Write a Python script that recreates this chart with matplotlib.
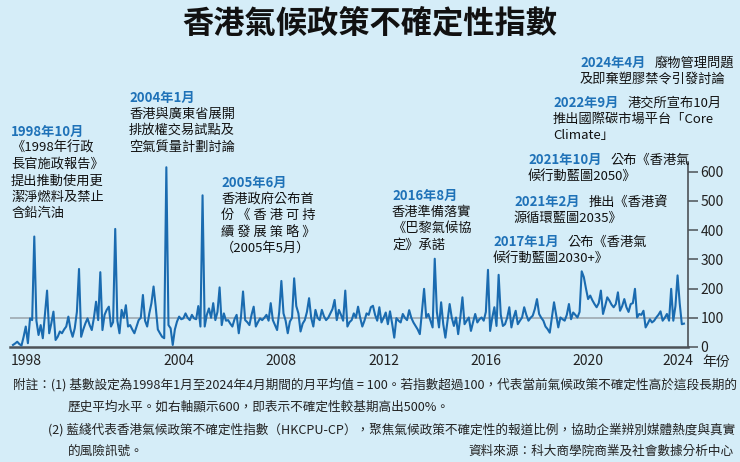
import matplotlib
matplotlib.use('Agg')
import matplotlib.pyplot as plt
import numpy as np

plt.rcParams['font.family'] = ['Noto Sans CJK TC', 'DejaVu Sans']

# HKCPU-CP monthly index, Jan 1998 - Apr 2024
y1998 = [7, 12, 18, 10, 5, 35, 70, 13, 98, 92, 378, 90]
y1999 = [41, 75, 30, 110, 193, 47, 81, 121, 24, 35, 53, 47]
y2000 = [60, 70, 104, 60, 35, 64, 120, 267, 35, 60, 81, 98]
y2001 = [75, 58, 100, 155, 92, 256, 58, 110, 127, 138, 70, 85]
y2002 = [404, 90, 47, 127, 100, 143, 70, 75, 60, 47, 70, 92]
y2003 = [100, 178, 90, 70, 115, 150, 207, 138, 60, 47, 35, 30]
y2004 = [615, 75, 64, 7, 60, 87, 104, 95, 98, 115, 100, 92]
y2005 = [110, 98, 95, 140, 70, 519, 70, 110, 132, 100, 150, 92]
y2006 = [120, 204, 75, 115, 90, 92, 80, 70, 95, 110, 47, 100]
y2007 = [190, 92, 85, 75, 110, 138, 70, 85, 98, 92, 100, 110]
y2008 = [90, 150, 92, 75, 58, 120, 226, 115, 90, 47, 87, 100]
y2009 = [235, 140, 115, 53, 80, 92, 120, 167, 100, 70, 127, 100]
y2010 = [92, 127, 105, 92, 100, 115, 130, 161, 92, 127, 110, 90]
y2011 = [193, 70, 85, 92, 115, 100, 138, 100, 70, 90, 115, 110]
y2012 = [136, 141, 110, 90, 136, 84, 100, 118, 78, 122, 80, 32]
y2013 = [99, 90, 84, 113, 100, 92, 126, 100, 84, 72, 60, 44]
y2014 = [120, 199, 101, 113, 90, 67, 302, 120, 67, 153, 78, 32]
y2015 = [90, 147, 100, 72, 101, 44, 100, 170, 78, 90, 101, 55]
y2016 = [85, 113, 84, 95, 101, 90, 120, 264, 55, 100, 136, 72]
y2017 = [247, 110, 72, 78, 100, 136, 67, 100, 124, 78, 90, 101]
y2018 = [136, 110, 90, 100, 107, 130, 164, 113, 100, 90, 70, 61]
y2019 = [49, 100, 153, 110, 67, 101, 95, 90, 110, 147, 95, 118]
y2020 = [110, 101, 120, 259, 239, 200, 164, 176, 160, 147, 136, 150]
y2021 = [193, 113, 140, 170, 159, 145, 136, 147, 187, 124, 140, 164]
y2022 = [136, 120, 147, 150, 199, 101, 113, 110, 124, 67, 80, 95]
y2023 = [84, 90, 101, 110, 122, 90, 100, 113, 90, 199, 90, 140]
y2024 = [245, 150, 78, 80]

hkcpu = (y1998 + y1999 + y2000 + y2001 + y2002 + y2003 + y2004 + y2005 + y2006
         + y2007 + y2008 + y2009 + y2010 + y2011 + y2012 + y2013 + y2014 + y2015
         + y2016 + y2017 + y2018 + y2019 + y2020 + y2021 + y2022 + y2023 + y2024)
months = np.arange(len(hkcpu))  # months since Jan 1998

tick_years = [1998, 2004, 2008, 2012, 2016, 2020, 2024]
y_ticks = [0, 100, 200, 300, 400, 500, 600]
base_level = 100

# event notes: x, y (px), date, rest of first line, further lines
notes = [
    (11, 132, '1998年10月', None, ['《1998年行政', '長官施政報告》', '提出推動使用更', '潔淨燃料及禁止', '含鉛汽油']),
    (129, 98, '2004年1月', None, ['香港與廣東省展開', '排放權交易試點及', '空氣質量計劃討論']),
    (221, 183, '2005年6月', None, ['香港政府公布首', '份 《 香 港 可 持', '續 發 展 策 略 》', '（2005年5月）']),
    (392, 196, '2016年8月', None, ['香港準備落實', '《巴黎氣候協', '定》承諾']),
    (493, 242, '2017年1月', '公布《香港氣', ['候行動藍圖2030+》']),
    (514, 202, '2021年2月', '推出《香港資', ['源循環藍圖2035》']),
    (528, 160, '2021年10月', '公布《香港氣', ['候行動藍圖2050》']),
    (553, 103, '2022年9月', '港交所宣布10月', ['推出國際碳市場平台「Core', 'Climate」']),
    (580, 63, '2024年4月', '廢物管理問題', ['及即棄塑膠禁令引發討論']),
]

footnotes = [
    (13, 385, '附註：(1) 基數設定為1998年1月至2024年4月期間的月平均值 = 100。若指數超過100，代表當前氣候政策不確定性高於這段長期的'),
    (68, 407, '歷史平均水平。如右軸顯示600，即表示不確定性較基期高出500%。'),
    (48, 430, '(2) 藍綫代表香港氣候政策不確定性指數（HKCPU-CP），聚焦氣候政策不確定性的報道比例，協助企業辨別媒體熱度與真實'),
    (68, 451, '的風險訊號。'),
]
source = '資料來源：科大商學院商業及社會數據分析中心'

BG = '#d5edf8'
LINE = '#1a6bb0'
DATE = '#1f72b8'
AXIS = '#4d5257'

W, H = 740, 462
fig = plt.figure(figsize=(W / 100, H / 100), dpi=100, facecolor=BG)


def fx(x):
    return x / W


def fy(y):
    return 1 - y / H


ax = fig.add_axes([fx(10), fy(347), fx(688) - fx(10), fy(162) - fy(347)])
ax.set_facecolor(BG)
ax.plot(months, hkcpu, color=LINE, lw=1.5, zorder=3)
ax.axhline(base_level, color='#9aa3aa', lw=1.1, zorder=2)
ax.set_xlim(-1.4, 316.9)
ax.set_ylim(0, 633)

for s in ['top', 'left']:
    ax.spines[s].set_visible(False)
ax.spines['bottom'].set_color(AXIS)
ax.spines['bottom'].set_linewidth(1.8)
ax.spines['right'].set_color(AXIS)
ax.spines['right'].set_linewidth(1.2)

ax.yaxis.tick_right()
ax.set_yticks(y_ticks)
ax.tick_params(axis='y', direction='out', length=7, width=1.1, color=AXIS,
               labelsize=10, labelcolor='#222222', pad=2)
xt = [min((y - 1998) * 12 + 6, 312) for y in tick_years]
ax.set_xticks(xt)
ax.set_xticklabels([str(y) for y in tick_years])
ax.tick_params(axis='x', length=0, labelsize=10, labelcolor='#222222', pad=5)
fig.text(fx(702), fy(362), '年份', fontsize=10, color='#222222', va='center')

fig.text(0.5, fy(23), '香港氣候政策不確定性指數', fontsize=22.5, fontweight='bold',
         ha='center', va='center', color='#111111')

fig.canvas.draw()
renderer = fig.canvas.get_renderer()
step = 16.3
for x, y, date, rest, lines in notes:
    t = fig.text(fx(x), fy(y), date, fontsize=9.5, fontweight='bold', color=DATE, va='center')
    if rest:
        bb = t.get_window_extent(renderer)
        fig.text(fx(bb.x1 + 9), fy(y), rest, fontsize=9.5, color='#111111', va='center')
    for k, line in enumerate(lines):
        fig.text(fx(x), fy(y + step * (k + 1)), line, fontsize=9.5, color='#111111', va='center')

for x, y, txt in footnotes:
    fig.text(fx(x), fy(y), txt, fontsize=9.1, color='#222222', va='center')
fig.text(fx(734), fy(451), source, fontsize=9.1, color='#222222', va='center', ha='right')

fig.savefig('out.png', dpi=100, facecolor=BG)
